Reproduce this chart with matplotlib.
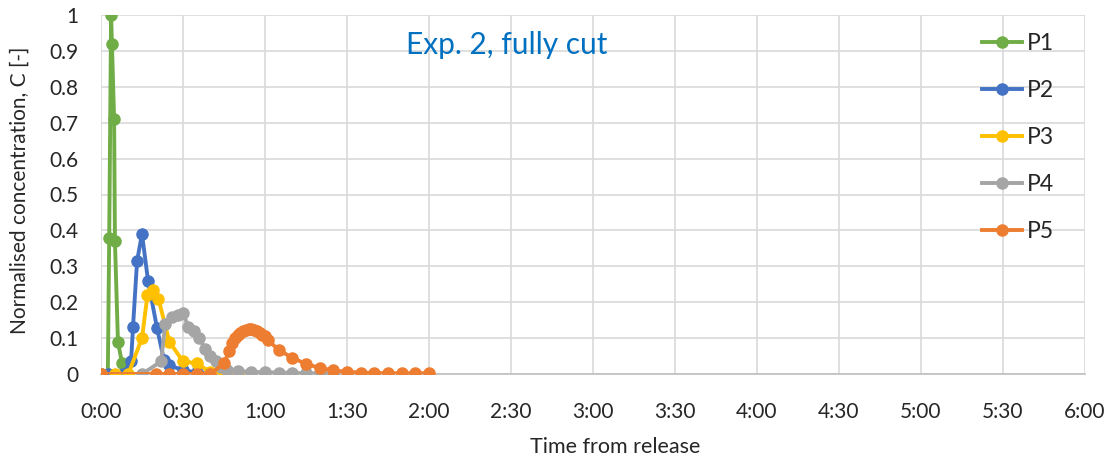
import matplotlib
matplotlib.use("Agg")
import matplotlib.pyplot as plt
from matplotlib.ticker import FixedLocator, FuncFormatter

plt.rcParams['font.family'] = ['Lato', 'DejaVu Sans']

# time in minutes from release
p1_t = [0, 2.5, 3.0, 3.7, 4.0, 4.8, 5.1, 6.2, 7.7, 10]
p1_c = [0, 0, 0.38, 1.0, 0.92, 0.71, 0.37, 0.09, 0.03, 0]

p2_t = [0, 2.5, 8, 11, 11.7, 13.2, 15, 17.2, 20.5, 23, 25, 30, 35, 40]
p2_c = [0, 0, 0, 0.035, 0.13, 0.315, 0.39, 0.26, 0.128, 0.04, 0.025, 0.01, 0.005, 0]

p3_t = [0, 5, 10, 15, 17, 19, 21, 25, 30, 35, 40, 45, 50]
p3_c = [0, 0, 0, 0.10, 0.22, 0.235, 0.21, 0.09, 0.035, 0.03, 0.005, 0, 0]

p4_t = [0, 15, 22, 23.5, 26, 28, 30, 32, 34, 36, 38, 40, 42, 44, 46, 50, 55, 60, 65, 70, 75, 80, 85]
p4_c = [0, 0, 0.035, 0.14, 0.16, 0.165, 0.17, 0.13, 0.12, 0.10, 0.07, 0.05, 0.035, 0.02, 0.012,
        0.008, 0.006, 0.005, 0.004, 0.003, 0.002, 0.002, 0.002]

p5_t = [0, 20, 25, 30, 35, 40, 45, 47, 48, 49, 50, 51, 52, 53, 54, 55, 56, 57, 58, 59, 60, 61,
        65, 70, 75, 80, 85, 90, 95, 100, 105, 110, 115, 120]
p5_c = [0, 0, 0, 0, 0, 0, 0.03, 0.065, 0.085, 0.10, 0.108, 0.115, 0.12, 0.123, 0.125, 0.125,
        0.123, 0.12, 0.115, 0.11, 0.105, 0.095, 0.067, 0.045, 0.028, 0.017, 0.01, 0.006,
        0.004, 0.003, 0.002, 0.002, 0.002, 0.002]

series = [
    ("P1", p1_t, p1_c, "#70AD47"),
    ("P2", p2_t, p2_c, "#4472C4"),
    ("P3", p3_t, p3_c, "#FFC000"),
    ("P4", p4_t, p4_c, "#A5A5A5"),
    ("P5", p5_t, p5_c, "#ED7D31"),
]

x_ticks = list(range(0, 361, 30))
y_ticks = [i / 10 for i in range(11)]
y_labels = ["0", "0.1", "0.2", "0.3", "0.4", "0.5", "0.6", "0.7", "0.8", "0.9", "1"]

W, H = 1113, 462
fig = plt.figure(figsize=(W / 100, H / 100), dpi=100)
ax = fig.add_axes([101 / W, (H - 374) / H, (1085 - 101) / W, (374 - 15) / H])

for name, t, c, col in series:
    ax.plot(t, c, color=col, lw=2.8, marker='o', ms=8, label=name, zorder=3,
            solid_joinstyle='round')

ax.set_xlim(0, 360)
ax.set_ylim(0, 1)
ax.xaxis.set_major_locator(FixedLocator(x_ticks))
ax.xaxis.set_major_formatter(FuncFormatter(lambda v, p: f"{int(v)//60}:{int(v)%60:02d}"))
ax.set_yticks(y_ticks)
ax.set_yticklabels(y_labels)
ax.grid(True, color="#D9D9D9", lw=1.2, zorder=0)
ax.set_axisbelow(True)
for s in ["top", "right"]:
    ax.spines[s].set_visible(False)
ax.spines["left"].set_visible(False)
ax.spines["bottom"].set_color("#BFBFBF")
ax.spines["bottom"].set_linewidth(1.2)
ax.tick_params(axis='both', length=0, labelsize=15, colors="#262626")
ax.tick_params(axis='x', pad=20)
ax.tick_params(axis='y', pad=16)
ax.set_xlabel("Time from release", fontsize=15.5, color="#262626")
ax.xaxis.set_label_coords(615 / W, 1 - 447 / H, transform=fig.transFigure)
ax.xaxis.label.set_va("center")
ax.set_ylabel("Normalised concentration, C [-]", fontsize=15, color="#262626")
ax.yaxis.set_label_coords(20 / W, 1 - 190 / H, transform=fig.transFigure)
ax.yaxis.label.set_va("center")

fig.text(507 / W, 1 - 45 / H, "Exp. 2, fully cut", color="#0070C0", fontsize=21.5,
         ha="center", va="center")

leg = ax.legend(loc="upper left", bbox_to_anchor=(982 / W, 1 - 33 / H),
                bbox_transform=fig.transFigure, frameon=False, fontsize=16.5,
                handlelength=1.75, handletextpad=0.22, labelspacing=1.13, borderpad=0,
                borderaxespad=0)
for txt in leg.get_texts():
    txt.set_color("#262626")

fig.savefig("out.png", dpi=100)
